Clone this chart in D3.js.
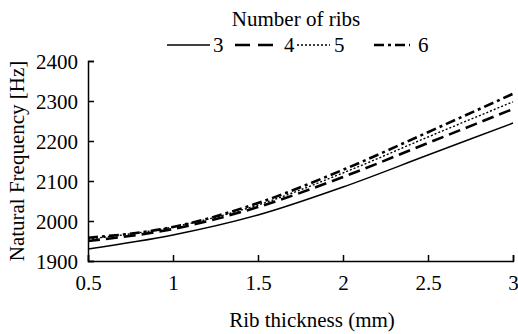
<!DOCTYPE html>
<html><head><meta charset="utf-8">
<script src="https://cdn.jsdelivr.net/npm/d3@7"></script>
</head><body style="margin:0">
<script>
const thickness = [0.5, 1, 1.5, 2, 2.5, 3];
const ribs3 = [1930, 1965, 2015, 2085, 2165, 2245];
const ribs4 = [1950, 1980, 2035, 2110, 2195, 2280];
const ribs5 = [1955, 1985, 2040, 2120, 2210, 2298];
const ribs6 = [1958, 1985, 2045, 2128, 2222, 2318];
const seriesNames = ["3", "4", "5", "6"];
const xTicks = [0.5, 1, 1.5, 2, 2.5, 3];
const yTicks = [1900, 2000, 2100, 2200, 2300, 2400];

const FONT = '"Liberation Serif", "Tinos", "Times New Roman", "DejaVu Serif", serif';
const W = 518, H = 334;
const svg = d3.select("body").append("svg").attr("width", W).attr("height", H);
const x = d3.scaleLinear().domain([0.5, 3]).range([88, 513]);
const y = d3.scaleLinear().domain([1900, 2400]).range([261, 61]);

const styles = [
  {dash: null, w: 1.4},
  {dash: "12,6", w: 2.6},
  {dash: "2,2", w: 1.4},
  {dash: "10,4,3,4", w: 2.6}
];
const allSeries = [ribs3, ribs4, ribs5, ribs6];

function setFont(sel) {
  sel.style("font-family", FONT, "important").style("font-size", "21px", "important");
}

// axes
const yAxis = d3.axisLeft(y).tickValues(yTicks).tickSize(-6).tickPadding(10).tickFormat(d3.format("d"));
const gy = svg.append("g").attr("transform", `translate(${x(0.5)},0)`).call(yAxis);
const xAxis = d3.axisBottom(x).tickValues(xTicks).tickSize(-6).tickPadding(10).tickFormat(d => d);
const gx = svg.append("g").attr("transform", `translate(0,${y(1900)})`).call(xAxis);
[gx, gy].forEach(g => {
  g.attr("font-family", null).attr("font-size", null);
  g.select(".domain").attr("stroke", "#000").attr("stroke-width", 1.5);
  g.selectAll(".tick line").attr("stroke", "#000").attr("stroke-width", 1.5);
  setFont(g.selectAll("text").attr("fill", "#000"));
});
gx.selectAll("text").attr("dy", "0.9em");
gy.selectAll("text").attr("dy", "0.35em");

// lines
const line = d3.line().x((d, i) => x(thickness[i])).y(d => y(d)).curve(d3.curveMonotoneX);
allSeries.forEach((s, i) => {
  svg.append("path").datum(s).attr("d", line).attr("fill", "none")
    .attr("stroke", "#000").attr("stroke-width", styles[i].w)
    .attr("stroke-dasharray", styles[i].dash);
});

function label(xp, yp, t, anchor, transform) {
  const el = svg.append("text").attr("fill", "#000").text(t);
  setFont(el);
  if (transform) el.attr("transform", transform); else el.attr("x", xp).attr("y", yp);
  if (anchor) el.attr("text-anchor", anchor);
  return el;
}
label(296, 26, "Number of ribs", "middle");
label(312, 327, "Rib thickness (mm)", "middle");
label(0, 0, "Natural Frequency [Hz]", "middle", "translate(24,161) rotate(-90)");

// legend
const legX = [[167, 210, 213], [235, 276, 284], [297, 330, 334], [374, 410, 418]];
seriesNames.forEach((n, i) => {
  svg.append("line").attr("x1", legX[i][0]).attr("x2", legX[i][1]).attr("y1", 45).attr("y2", 45)
    .attr("stroke", "#000").attr("stroke-width", styles[i].w)
    .attr("stroke-dasharray", i === 1 ? "15,8" : styles[i].dash);
  label(legX[i][2], 52, n);
});
</script>
</body></html>
